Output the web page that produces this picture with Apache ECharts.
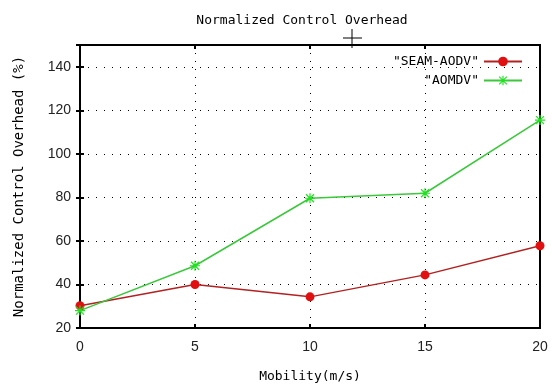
<!DOCTYPE html>
<html>
<head>
<meta charset="utf-8">
<script src="https://cdn.jsdelivr.net/npm/echarts@6/dist/echarts.min.js"></script>
<style>
  html, body { margin: 0; padding: 0; background: #fff; }
  #chart { width: 552px; height: 388px; }
</style>
</head>
<body>
<div id="chart"></div>
<script>
var mobility = [0, 5, 10, 15, 20]
var seamAodv = [30.2, 40, 34.3, 44.4, 57.8]
var aomdv = [28, 48.6, 79.6, 81.9, 115.5]
var yTicks = [20, 40, 60, 80, 100, 120, 140]

var mono = 'DejaVu Sans Mono'
var star = 'path://M4.4,0H5.6V10H4.4Z M0,4.4H10V5.6H0Z M0.6,1.4L1.4,0.6L9.4,8.6L8.6,9.4Z M8.6,0.6L9.4,1.4L1.4,9.4L0.6,8.6Z'

var myChart = echarts.init(document.getElementById('chart'))

var pairs = function (ys) {
  return mobility.map(function (x, i) { return [x, ys[i]] })
}

var option = {
  backgroundColor: '#fff',
  animation: false,
  title: {
    text: 'Normalized Control Overhead',
    left: 297,
    textAlign: 'center',
    top: 9,
    textStyle: { fontFamily: mono, fontSize: 13, fontWeight: 'normal', color: '#000' }
  },
  legend: {
    orient: 'vertical',
    right: 24,
    top: 50,
    align: 'right',
    itemWidth: 38,
    itemHeight: 12,
    itemGap: 6,
    selectedMode: false,
    formatter: function (n) { return '"' + n + '"' },
    textStyle: { fontFamily: mono, fontSize: 13, color: '#000' }
  },
  grid: {
    left: 80, right: 12, top: 45, bottom: 58,
    show: true, borderColor: '#000', borderWidth: 2, backgroundColor: '#fff'
  },
  xAxis: [{
    type: 'value',
    min: 0, max: 20, interval: 5,
    name: 'Mobility(m/s)',
    nameLocation: 'middle',
    nameGap: 42,
    nameTextStyle: { fontFamily: mono, fontSize: 13, color: '#000' },
    axisLine: { show: false },
    axisTick: { inside: true, length: 4, lineStyle: { color: '#000', width: 2 } },
    axisLabel: { margin: 12, fontFamily: 'Liberation Sans', fontSize: 14, color: '#222' },
    splitLine: { show: true, lineStyle: { color: '#000', type: [1, 7], width: 1 } }
  }, {
    type: 'value', position: 'top',
    min: 0, max: 20, interval: 5,
    axisLine: { show: false },
    axisTick: { inside: true, length: 4, lineStyle: { color: '#000', width: 2 } },
    axisLabel: { show: false },
    splitLine: { show: false }
  }],
  yAxis: [{
    type: 'value',
    min: 20, max: 150, interval: 20,
    name: 'Normalized Control Overhead (%)',
    nameLocation: 'middle',
    nameGap: 54,
    nameTextStyle: { fontFamily: mono, fontSize: 14, color: '#000' },
    axisLine: { show: false },
    axisTick: { inside: true, length: 4, lineStyle: { color: '#000', width: 2 } },
    axisLabel: {
      margin: 9, fontFamily: 'Liberation Sans', fontSize: 14, color: '#222',
      formatter: function (v) { return yTicks.indexOf(v) >= 0 ? String(v) : '' }
    },
    splitLine: { show: true, lineStyle: { color: '#000', type: [1, 7], width: 1 } }
  }, {
    type: 'value', position: 'right',
    min: 20, max: 150, interval: 20,
    axisLine: { show: false },
    axisTick: { inside: true, length: 4, lineStyle: { color: '#000', width: 2 } },
    axisLabel: { show: false },
    splitLine: { show: false }
  }],
  series: [{
    name: 'SEAM-AODV',
    type: 'line',
    data: pairs(seamAodv),
    symbol: 'circle',
    symbolSize: 9,
    lineStyle: { color: '#b22222', width: 1.5 },
    itemStyle: { color: '#e01010' }
  }, {
    name: 'AOMDV',
    type: 'line',
    data: pairs(aomdv),
    symbol: star,
    symbolSize: 10,
    lineStyle: { color: '#3cc83c', width: 1.5 },
    itemStyle: { color: '#20e020' }
  }],
  graphic: [{
    type: 'line', shape: { x1: 343, y1: 38, x2: 362, y2: 38 },
    style: { stroke: '#000', lineWidth: 1 }
  }, {
    type: 'line', shape: { x1: 352, y1: 29, x2: 352, y2: 48 },
    style: { stroke: '#000', lineWidth: 1 }
  }]
}

myChart.setOption(option)
</script>
</body>
</html>
